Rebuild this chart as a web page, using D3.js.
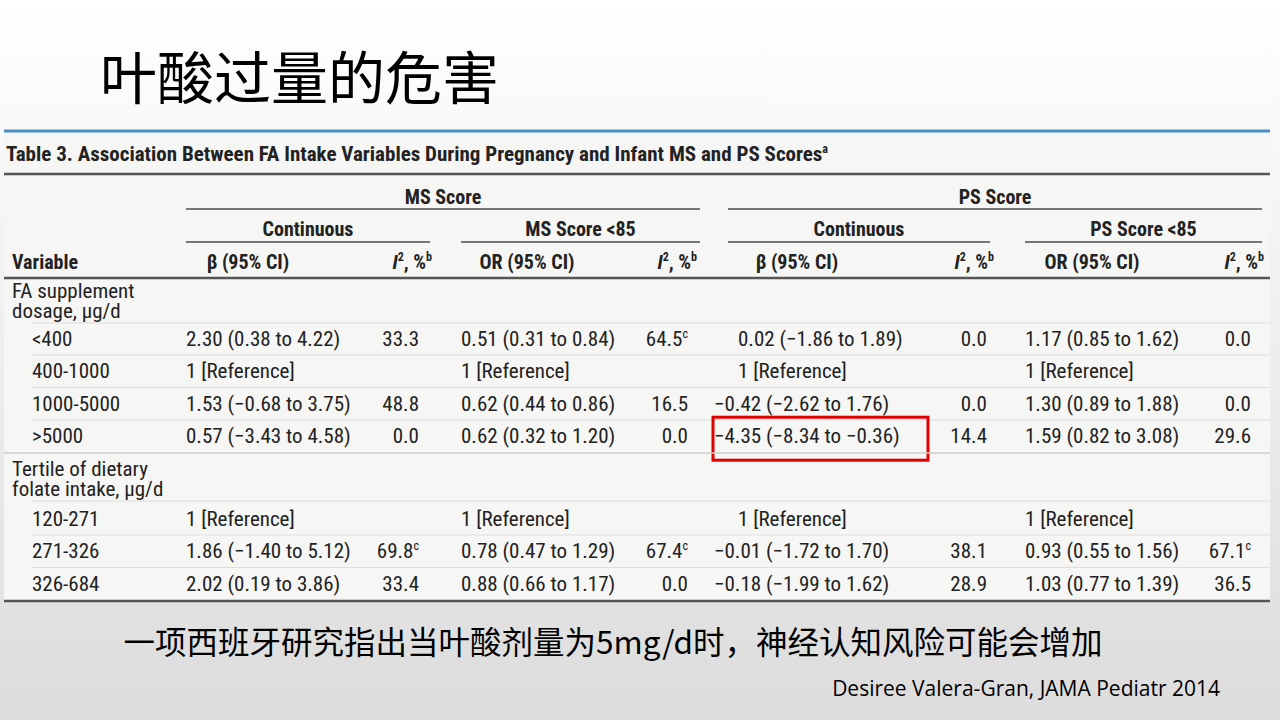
<!DOCTYPE html><html><head><meta charset="utf-8">
<script src="https://cdn.jsdelivr.net/npm/d3@7"></script>
<style>body{margin:0}svg{display:block}</style></head><body>
<svg id="s" width="1280" height="720"></svg>
<script>
const groups = ["FA supplement|dosage, μg/d", "Tertile of dietary|folate intake, μg/d"];
const categories = [["<400","400-1000","1000-5000",">5000"],["120-271","271-326","326-684"]];
const msBeta = [["2.30 (0.38 to 4.22)","1 [Reference]","1.53 (−0.68 to 3.75)","0.57 (−3.43 to 4.58)"],["1 [Reference]","1.86 (−1.40 to 5.12)","2.02 (0.19 to 3.86)"]];
const msBetaI2 = [["33.3","","48.8","0.0"],["","69.8c","33.4"]];
const msOR = [["0.51 (0.31 to 0.84)","1 [Reference]","0.62 (0.44 to 0.86)","0.62 (0.32 to 1.20)"],["1 [Reference]","0.78 (0.47 to 1.29)","0.88 (0.66 to 1.17)"]];
const msORI2 = [["64.5c","","16.5","0.0"],["","67.4c","0.0"]];
const psBeta = [["0.02 (−1.86 to 1.89)","1 [Reference]","−0.42 (−2.62 to 1.76)","−4.35 (−8.34 to −0.36)"],["1 [Reference]","−0.01 (−1.72 to 1.70)","−0.18 (−1.99 to 1.62)"]];
const psBetaI2 = [["0.0","","0.0","14.4"],["","38.1","28.9"]];
const psOR = [["1.17 (0.85 to 1.62)","1 [Reference]","1.30 (0.89 to 1.88)","1.59 (0.82 to 3.08)"],["1 [Reference]","0.93 (0.55 to 1.56)","1.03 (0.77 to 1.39)"]];
const psORI2 = [["0.0","","0.0","29.6"],["","67.1c","36.5"]];
const highlight = [0,3];

const svg = d3.select("#s");
const F = "'Liberation Sans Narrow','Roboto Condensed','Open Sans',sans-serif";
const defs = svg.append("defs");
const g = defs.append("linearGradient").attr("id","bg").attr("x1",0).attr("y1",0).attr("x2",0).attr("y2",1);
g.append("stop").attr("offset",0).attr("stop-color","#ffffff");
g.append("stop").attr("offset",1).attr("stop-color","#dcdcdc");
svg.append("rect").attr("width",1280).attr("height",720).attr("fill","url(#bg)");
svg.append("text").attr("x",100).attr("y",99).attr("font-family","'Noto Sans CJK SC'").attr("font-size",57).attr("fill","#000").text("叶酸过量的危害");

svg.append("rect").attr("x",4).attr("y",130).attr("width",1266).attr("height",472).attr("fill","#f6f6f4");
svg.append("line").attr("x1",4).attr("x2",1270).attr("y1",131).attr("y2",131).attr("stroke","#4a8fc8").attr("stroke-width",3);
svg.append("text").attr("x",6).attr("y",161).attr("font-family",F).attr("font-size",21).attr("font-weight","bold").attr("fill","#222")
 .text("Table 3. Association Between FA Intake Variables During Pregnancy and Infant MS and PS Scores").append("tspan").attr("font-size",12).attr("dy",-8).text("a");
const rule=(x1,x2,y,w,c)=>svg.append("line").attr("x1",x1).attr("x2",x2).attr("y1",y).attr("y2",y).attr("stroke",c).attr("stroke-width",w);
rule(4,1270,174,2.5,"#555");rule(4,1270,278,2.5,"#555");rule(4,1270,601,2.5,"#555");

const txt=(x,y,s,anchor,bold)=>svg.append("text").attr("x",x).attr("y",y).attr("font-family",F).attr("font-size",bold?20:21).attr("fill","#222")
 .attr("text-anchor",anchor||"start").attr("font-weight",bold?"bold":"normal").text(s);
[[186,700,"MS Score",197,209],[728,1262,"PS Score",197,209],[186,430,"Continuous",229,242],[461,700,"MS Score <85",229,242],[728,990,"Continuous",229,242],[1025,1262,"PS Score <85",229,242]]
 .forEach(([a,b,t,ty,ly])=>{txt((a+b)/2,ty+7,t,"middle",true);rule(a,b,ly,2,"#777");});
const hy=269;
txt(12,hy,"Variable","start",true);
const I2head=(xr)=>{const t=txt(xr,hy,"","end",true);t.append("tspan").attr("font-style","italic").text("I");t.append("tspan").attr("font-size",12).attr("dy",-8).text("2");t.append("tspan").attr("dy",8).text(", %");t.append("tspan").attr("font-size",12).attr("dy",-8).text("b");};
[[248,"β (95% CI)"],[527,"OR (95% CI)"],[797,"β (95% CI)"],[1092,"OR (95% CI)"]].forEach(([x,t])=>txt(x,hy,t,"middle",true));
[432,697,994,1264].forEach(I2head);

const I2=(xr,y,s)=>{const sup=s.endsWith("c");const t=txt(xr,y,sup?s.slice(0,-1):s,"end");if(sup){t.append("tspan").attr("font-size",12).attr("dy",-8).text("c");}};
const colX={msB:186,msI:419,msO:461,msOI:688,psB:738,psI:987,psO:1025,psOI:1251};
const y=d3.scaleLinear().domain([0,1]).range([0,32.4]);
const starts=[339,519];
groups.forEach((gname,gi)=>{
  const top=gi===0?285:463;
  const [l1,l2]=gname.split("|");
  txt(12,top+13,l1);txt(12,top+33,l2);
  rule(32,1270,top+38,1,"#ddd");
  categories[gi].forEach((c,i)=>{
    const cy=starts[gi]+y(i)+7;
    txt(32,cy,c);
    txt(colX.msB,cy,msBeta[gi][i]);I2(colX.msI,cy,msBetaI2[gi][i]);
    txt(colX.msO,cy,msOR[gi][i]);I2(colX.msOI,cy,msORI2[gi][i]);
    const t=txt(colX.psB,cy,psBeta[gi][i]);
    if(psBeta[gi][i].startsWith("−")){t.attr("x",colX.psB-24);}
    I2(colX.psI,cy,psBetaI2[gi][i]);
    txt(colX.psO,cy,psOR[gi][i]);I2(colX.psOI,cy,psORI2[gi][i]);
    if(i<categories[gi].length-1) rule(32,1270,cy+9,1,"#ddd");
    if(gi===highlight[0]&&i===highlight[1]){
      svg.append("rect").attr("x",713).attr("y",cy-26).attr("width",215).attr("height",43).attr("fill","none").attr("stroke","#e00000").attr("stroke-width",3);
    }
  });
  if(gi===0) rule(4,1270,453,1.5,"#ccc");
});
svg.append("text").attr("x",613).attr("y",654).attr("text-anchor","middle").attr("font-family","'Noto Sans CJK SC'").attr("font-size",31.5).attr("fill","#000").text("一项西班牙研究指出当叶酸剂量为5mg/d时，神经认知风险可能会增加");
svg.append("text").attr("x",1220).attr("y",696).attr("text-anchor","end").attr("font-family","'Open Sans',sans-serif").attr("font-size",21).attr("fill","#000").text("Desiree Valera-Gran, JAMA Pediatr 2014");
</script></body></html>
